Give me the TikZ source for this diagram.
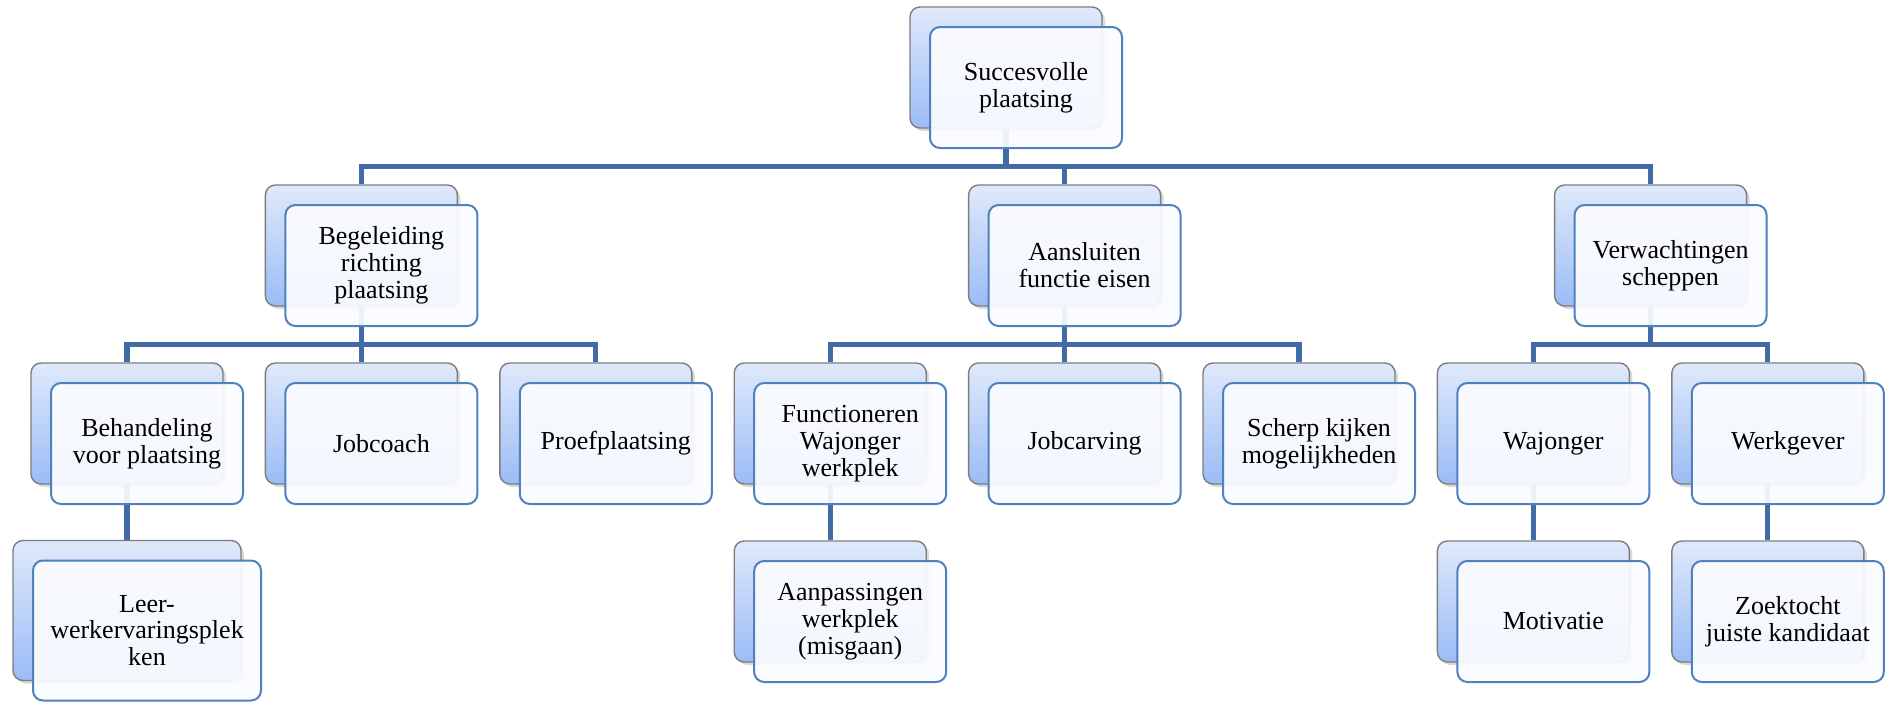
\documentclass[tikz,border=0pt]{standalone}
\usepackage{fontspec}
\setmainfont{Liberation Serif}
\usetikzlibrary{positioning, shadows}
\definecolor{linkblue}{RGB}{66,108,165}
\definecolor{frameblue}{RGB}{79,129,189}
\definecolor{framegray}{RGB}{125,125,125}
\definecolor{paleblue}{RGB}{223,233,251}
\definecolor{deepblue}{RGB}{155,188,246}
\definecolor{cardwhite}{RGB}{251,252,255}

\begin{document}
\begin{tikzpicture}[node distance=89pt and 117.2pt, on grid,
        cardback/.style={rectangle, rounded corners=5pt, draw=framegray, line width=.7pt,
            top color=paleblue, bottom color=deepblue,
            minimum width=96pt, minimum height=60.5pt,
            drop shadow={shadow xshift=1.5pt, shadow yshift=-1.5pt, opacity=.3}},
        cardfront/.style={rectangle, rounded corners=5pt, draw=frameblue, line width=1pt,
            fill=cardwhite, fill opacity=.92, text opacity=1,
            minimum width=96pt, minimum height=60.5pt, inner sep=2pt, align=center,
            font=\fontsize{13}{13.4}\selectfont},
        wide/.style={minimum width=114pt, minimum height=70pt},
        link/.style={draw=linkblue, line width=2.6pt},
        elbow/.style={to path={(\tikztostart.south) -- ++(0,-19pt) -| (\tikztotarget.north)}}]
                \useasboundingbox (0,0) rectangle (942.5pt,-351pt);
                % back cards
                \node[cardback] (sv) at (503pt,-33.75pt) {};
                \node[cardback] (beg) [below left=89pt and 322.3pt of sv] {};
                \node[cardback] (aan) [below right=89pt and 29.3pt of sv] {};
                \node[cardback] (ver) [below right=89pt and 322.3pt of sv] {};
                \node[cardback] (beh) [below left=of beg] {};
                \node[cardback] (job) [below=of beg] {};
                \node[cardback] (proef) [below right=of beg] {};
                \node[cardback] (func) [below left=of aan] {};
                \node[cardback] (carv) [below=of aan] {};
                \node[cardback] (scherp) [below right=of aan] {};
                \node[cardback] (waj) [below left=89pt and 58.6pt of ver] {};
                \node[cardback] (werk) [below right=89pt and 58.6pt of ver] {};
                \node[cardback, wide] (leer) [below=93.5pt of beh] {};
                \node[cardback] (aanp) [below=of func] {};
                \node[cardback] (mot) [below=of waj] {};
                \node[cardback] (zoek) [below=of werk] {};
                \path[link]
                (sv) edge[elbow] (beg) edge[elbow] (aan) edge[elbow] (ver)
                (beg) edge[elbow] (beh) edge[elbow] (job) edge[elbow] (proef)
                (aan) edge[elbow] (func) edge[elbow] (carv) edge[elbow] (scherp)
                (ver) edge[elbow] (waj) edge[elbow] (werk)
                (beh) edge[elbow] (leer)
                (func) edge[elbow] (aanp)
                (waj) edge[elbow] (mot)
                (werk) edge[elbow] (zoek);
                % front cards
                \node[cardfront] (sv-t) [below right=10pt and 10pt of sv] {Succesvolle\\plaatsing};
                \node[cardfront] (beg-t) [below right=10pt and 10pt of beg] {Begeleiding\\richting\\plaatsing};
                \node[cardfront] (aan-t) [below right=10pt and 10pt of aan] {Aansluiten\\functie eisen};
                \node[cardfront] (ver-t) [below right=10pt and 10pt of ver] {Verwachtingen\\scheppen};
                \node[cardfront] (beh-t) [below right=10pt and 10pt of beh] {Behandeling\\voor plaatsing};
                \node[cardfront] (job-t) [below right=10pt and 10pt of job] {Jobcoach};
                \node[cardfront] (proef-t) [below right=10pt and 10pt of proef] {Proefplaatsing};
                \node[cardfront] (func-t) [below right=10pt and 10pt of func] {Functioneren\\Wajonger\\werkplek};
                \node[cardfront] (carv-t) [below right=10pt and 10pt of carv] {Jobcarving};
                \node[cardfront] (scherp-t) [below right=10pt and 10pt of scherp] {Scherp kijken\\mogelijkheden};
                \node[cardfront] (waj-t) [below right=10pt and 10pt of waj] {Wajonger};
                \node[cardfront] (werk-t) [below right=10pt and 10pt of werk] {Werkgever};
                \node[cardfront, wide] (leer-t) [below right=10pt and 10pt of leer] {Leer-\\werkervaringsplek\\ken};
                \node[cardfront] (aanp-t) [below right=10pt and 10pt of aanp] {Aanpassingen\\werkplek\\(misgaan)};
                \node[cardfront] (mot-t) [below right=10pt and 10pt of mot] {Motivatie};
                \node[cardfront] (zoek-t) [below right=10pt and 10pt of zoek] {Zoektocht\\juiste kandidaat};
        \end{tikzpicture}
\end{document}
